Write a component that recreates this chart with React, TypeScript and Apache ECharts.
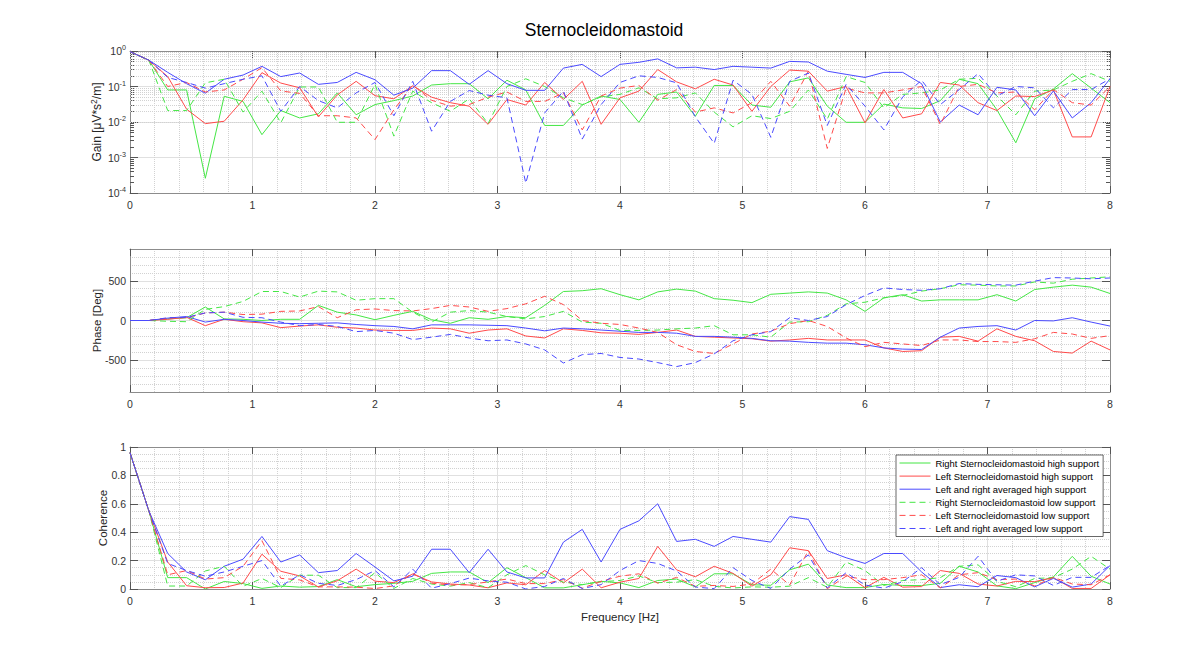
import React, { useEffect, useRef } from "react";
import * as echarts from "echarts";

// ---------------- data ----------------
const frequencyHz = [
  0, 0.154, 0.308, 0.462, 0.615, 0.769, 0.923, 1.077, 1.231, 1.385,
  1.538, 1.692, 1.846, 2.0, 2.154, 2.308, 2.462, 2.615, 2.769, 2.923,
  3.077, 3.231, 3.385, 3.538, 3.692, 3.846, 4.0, 4.154, 4.308, 4.462,
  4.615, 4.769, 4.923, 5.077, 5.231, 5.385, 5.538, 5.692, 5.846, 6.0,
  6.154, 6.308, 6.462, 6.615, 6.769, 6.923, 7.077, 7.231, 7.385, 7.538,
  7.692, 7.846, 8.0,
];

const seriesNames = [
  "Right Sternocleidomastoid high support",
  "Left Sternocleidomastoid high support",
  "Left and right averaged high support",
  "Right Sternocleidomastoid low support",
  "Left Sternocleidomastoid low support",
  "Left and right averaged low support",
];

// Gain (log axis); the coherence panel shows the same curves on a linear axis
const gainRightHigh = [
  0.96, 0.55, 0.08, 0.08, 0.00026, 0.053, 0.038, 0.0044, 0.021, 0.013,
  0.017, 0.066, 0.016, 0.031, 0.04, 0.054, 0.11, 0.12, 0.12, 0.045,
  0.15, 0.08, 0.008, 0.008, 0.03, 0.054, 0.043, 0.0098, 0.06, 0.07,
  0.0145, 0.107, 0.107, 0.03, 0.026, 0.135, 0.175, 0.028, 0.0098, 0.0098,
  0.032, 0.025, 0.024, 0.04, 0.16, 0.12, 0.022, 0.0026, 0.045, 0.085,
  0.23, 0.09, 0.035,
];
const gainLeftHigh = [
  0.96, 0.55, 0.19, 0.023, 0.009, 0.0105, 0.042, 0.245, 0.125, 0.092,
  0.014, 0.058, 0.14, 0.055, 0.045, 0.105, 0.05, 0.035, 0.028, 0.0086,
  0.043, 0.03, 0.13, 0.043, 0.14, 0.0086, 0.048, 0.074, 0.3, 0.135,
  0.086, 0.16, 0.11, 0.02, 0.1, 0.29, 0.27, 0.074, 0.1, 0.0095,
  0.082, 0.013, 0.017, 0.13, 0.11, 0.035, 0.021, 0.054, 0.052, 0.08,
  0.0038, 0.0038, 0.1,
];
const gainAvgHigh = [
  0.96, 0.55, 0.25, 0.12, 0.065, 0.16, 0.21, 0.37, 0.19, 0.24,
  0.115, 0.13, 0.25, 0.155, 0.057, 0.09, 0.28, 0.28, 0.115, 0.28,
  0.12, 0.078, 0.078, 0.33, 0.42, 0.19, 0.42, 0.48, 0.6, 0.335,
  0.35, 0.3, 0.37, 0.35, 0.33, 0.51, 0.49, 0.27, 0.22, 0.18,
  0.25, 0.25, 0.12, 0.01, 0.03, 0.016, 0.095, 0.08, 0.015, 0.075,
  0.013, 0.035, 0.165,
];
const gainRightLow = [
  0.96, 0.55, 0.021, 0.021, 0.127, 0.16, 0.019, 0.074, 0.0095, 0.097,
  0.097, 0.0098, 0.0098, 0.115, 0.004, 0.074, 0.035, 0.02, 0.045, 0.009,
  0.1, 0.165, 0.1, 0.048, 0.031, 0.051, 0.06, 0.092, 0.045, 0.048,
  0.066, 0.019, 0.0073, 0.015, 0.0125, 0.02, 0.08, 0.012, 0.19, 0.13,
  0.025, 0.06, 0.066, 0.08, 0.16, 0.17, 0.054, 0.016, 0.074, 0.08,
  0.14, 0.23, 0.14,
];
const gainLeftLow = [
  0.96, 0.55, 0.1, 0.13, 0.07, 0.08, 0.16, 0.34, 0.075, 0.064,
  0.015, 0.015, 0.013, 0.0032, 0.022, 0.11, 0.041, 0.028, 0.031, 0.05,
  0.07, 0.038, 0.038, 0.066, 0.006, 0.054, 0.09, 0.107, 0.041, 0.082,
  0.019, 0.025, 0.018, 0.035, 0.14, 0.028, 0.27, 0.0018, 0.09, 0.066,
  0.066, 0.08, 0.1, 0.0085, 0.1, 0.115, 0.066, 0.07, 0.022, 0.082,
  0.035, 0.03, 0.1,
];
const gainAvgLow = [
  0.96, 0.55, 0.18, 0.13, 0.09, 0.12, 0.16, 0.2, 0.02, 0.1,
  0.04, 0.025, 0.066, 0.13, 0.015, 0.14, 0.0055, 0.038, 0.077, 0.057,
  0.048, 0.00019, 0.018, 0.074, 0.0033, 0.031, 0.13, 0.2, 0.18, 0.127,
  0.014, 0.0025, 0.15, 0.06, 0.0037, 0.14, 0.24, 0.008, 0.115, 0.028,
  0.006, 0.051, 0.15, 0.031, 0.082, 0.23, 0.054, 0.1, 0.092, 0.025,
  0.082, 0.082, 0.165,
];

// Phase [Deg]
const phaseRightHigh = [
  0, 0, 20, 35, 170, 20, 15, 0, 15, 15,
  190, 105, 70, 10, 65, 115, 10, -35, 35, 15,
  50, 35, 190, 365, 375, 400, 325, 260, 360, 395,
  370, 275, 255, 225, 330, 345, 360, 345, 260, 115,
  285, 325, 245, 260, 260, 260, 325, 245, 390, 420,
  445, 420, 340,
];
const phaseLeftHigh = [
  0, 0, 15, 40, -65, 15, -15, -30, -90, -70,
  -55, -85, -95, -120, -125, -125, -95, -105, -160, -120,
  -105, -195, -220, -105, -125, -155, -160, -175, -150, -120,
  -200, -210, -220, -230, -260, -245, -225, -245, -245, -245,
  -345, -390, -380, -210, -200, -260, -105, -200, -255, -390,
  -410, -260, -370,
];
const phaseAvgHigh = [
  0, 0, 30, 50, -20, 15, 0, -20, -35, -40,
  -35, -30, -50, -65, -75, -105, -55, -55, -55, -60,
  -65, -95, -130, -95, -105, -120, -135, -150, -150, -160,
  -200, -200, -210, -225, -255, -260, -275, -285, -285, -305,
  -345, -360, -365, -210, -95, -75, -65, -120, 0, -5,
  35, -20, -70,
];
const phaseRightLow = [
  0, 0, -10, -15, 140, 175, 240, 365, 365, 295,
  370, 360, 255, 275, 275, 105, -20, 105, 125, 105,
  50, 20, 50, 115, -20, -35, -125, -125, -120, -105,
  -95, -65, -180, -180, -210, -20, -15, 65, 210, 230,
  285, 315, 370, 400, 450, 445, 435, 435, 485, 470,
  520, 535, 550,
];
const phaseLeftLow = [
  0, 0, 30, 35, 95, 105, 75, 80, 115, 120,
  175, 35, 135, 145, 125, 120, 150, 190, 170, 115,
  150, 210, 305, 200, 0, -35, -50, -95, -150, -305,
  -390, -415, -295, -170, -135, -40, 0, -75, -220, -330,
  -275, -295, -315, -245, -245, -265, -265, -275, -230, -150,
  -170, -225, -190,
];
const phaseAvgLow = [
  0, 0, 35, 40, 95, 105, 40, 35, -20, -65,
  -50, -75, -140, -125, -160, -240, -210, -175, -220, -255,
  -245, -295, -370, -535, -430, -415, -465, -485, -530, -580,
  -530, -420, -255, -180, -140, 35, 0, 50, 200, 315,
  410, 390, 380, 400, 465, 455, 450, 445, 495, 540,
  535, 525, 535,
];

// Coherence: same curves as the gain panel, drawn on a linear 0..1 axis
const coherenceRightHigh = gainRightHigh;
const coherenceLeftHigh = gainLeftHigh;
const coherenceAvgHigh = gainAvgHigh;
const coherenceRightLow = gainRightLow;
const coherenceLeftLow = gainLeftLow;
const coherenceAvgLow = gainAvgLow;

const phaseTicks = [-500, 0, 500];
const logMinorTicks: number[] = [];
for (let e = -4; e < 0; e++) {
  for (let m = 2; m <= 9; m++) logMinorTicks.push(m * Math.pow(10, e));
}

// ---------------- styling ----------------
const FONT = "'Liberation Sans', Arial, Helvetica, sans-serif";
const GREEN = "#45e645";
const RED = "#ff4a4a";
const BLUE = "#4a4aff";
const AXIS = "#8c8c8c";
const TICK = "#555555";
const LABEL = "#333333";
const MAJOR = "#e0e0e0";
const MINOR = "#d2d2d2";
const TICK_FS = 10.5;
const NAME_FS = 11.5;

const styles = [
  { color: GREEN, dashed: false },
  { color: RED, dashed: false },
  { color: BLUE, dashed: false },
  { color: GREEN, dashed: true },
  { color: RED, dashed: true },
  { color: BLUE, dashed: true },
];
const gainSets = [gainRightHigh, gainLeftHigh, gainAvgHigh, gainRightLow, gainLeftLow, gainAvgLow];
const phaseSets = [phaseRightHigh, phaseLeftHigh, phaseAvgHigh, phaseRightLow, phaseLeftLow, phaseAvgLow];
const cohSets = [coherenceRightHigh, coherenceLeftHigh, coherenceAvgHigh, coherenceRightLow, coherenceLeftLow, coherenceAvgLow];

const pairs = (vals: number[]) => frequencyHz.map((f, i) => [f, vals[i]]);
const nameStyle = { color: "#262626", fontSize: NAME_FS, fontFamily: FONT };

function xBottom(gridIndex: number, name: string) {
  return {
    type: "value",
    gridIndex,
    min: 0,
    max: 8,
    interval: 1,
    position: "bottom",
    axisLine: { onZero: false, lineStyle: { color: AXIS, width: 1 } },
    axisTick: { inside: true, length: 7, lineStyle: { color: TICK } },
    axisLabel: { color: LABEL, fontSize: TICK_FS, fontFamily: FONT, margin: 6 },
    splitLine: { show: true, lineStyle: { color: MAJOR, width: 1 } },
    minorTick: { show: false, splitNumber: 5 },
    minorSplitLine: { show: true, lineStyle: { color: MINOR, type: "dotted", width: 1 } },
    name,
    nameLocation: "middle",
    nameGap: 22,
    nameMoveOverlap: false,
    nameTextStyle: nameStyle,
  };
}
function xTop(gridIndex: number) {
  return {
    type: "value",
    gridIndex,
    min: 0,
    max: 8,
    interval: 1,
    position: "top",
    axisLine: { onZero: false, lineStyle: { color: AXIS, width: 1 } },
    axisTick: { inside: true, length: 7, lineStyle: { color: TICK } },
    axisLabel: { show: false },
    splitLine: { show: false },
  };
}
function logMinorAxis(position: string) {
  return {
    type: "log",
    logBase: 10,
    gridIndex: 0,
    min: 0.0001,
    max: 1,
    position,
    axisLine: { show: false, onZero: false },
    axisTick: { show: true, inside: true, length: 4, lineStyle: { color: TICK }, customValues: logMinorTicks },
    axisLabel: { show: false },
    splitLine: { show: false },
  };
}

function lineSeries(i: number, vals: number[], xAxisIndex: number, yAxisIndex: number) {
  return {
    type: "line",
    name: seriesNames[i],
    xAxisIndex,
    yAxisIndex,
    data: pairs(vals),
    showSymbol: false,
    symbol: "none",
    lineStyle: { color: styles[i].color, width: 1, type: styles[i].dashed ? [6, 4] : "solid" },
    itemStyle: { color: styles[i].color },
    z: 3,
  } as any;
}

function buildOption() {
  const series: any[] = [];
  gainSets.forEach((vals, i) => {
    const s = lineSeries(i, vals, 0, 0);
    if (i === 0) {
      s.markLine = {
        silent: true,
        symbol: ["none", "none"],
        label: { show: false },
        z: 1,
        lineStyle: { color: MINOR, type: "dotted", width: 1 },
        data: logMinorTicks.map((v) => ({ yAxis: v })),
      };
    }
    series.push(s);
  });
  phaseSets.forEach((vals, i) => series.push(lineSeries(i, vals, 2, 3)));
  cohSets.forEach((vals, i) => series.push(lineSeries(i, vals, 4, 5)));

  const logLabel = (v: number) => {
    const e = Math.round(Math.log10(v));
    return `{b|10}{s|${e}}`;
  };

  return {
    animation: false,
    backgroundColor: "#ffffff",
    title: {
      text: "Sternocleidomastoid",
      left: 599,
      textAlign: "center",
      top: 16,
      textStyle: { color: "#000", fontSize: 17.5, fontWeight: "normal", fontFamily: FONT },
    },
    legend: {
      data: seriesNames,
      orient: "vertical",
      left: 896,
      top: 455,
      itemWidth: 31,
      itemHeight: 10,
      itemGap: 3.1,
      padding: [3, 4, 3, 3],
      backgroundColor: "#ffffff",
      borderColor: "#262626",
      borderWidth: 0.7,
      borderRadius: 0,
      itemStyle: { opacity: 0 },
      lineStyle: { width: 1 },
      textStyle: { color: "#000", fontSize: 9.4, lineHeight: 10, fontFamily: FONT },
      selectedMode: false,
    },
    grid: [
      { left: 130, width: 980, top: 51, height: 142 },
      { left: 130, width: 980, top: 249, height: 143 },
      { left: 130, width: 980, top: 447, height: 142 },
    ],
    xAxis: [xBottom(0, ""), xTop(0), xBottom(1, ""), xTop(1), xBottom(2, "Frequency [Hz]"), xTop(2)],
    yAxis: [
      // 0: gain left (log)
      {
        type: "log",
        logBase: 10,
        gridIndex: 0,
        min: 0.0001,
        max: 1,
        position: "left",
        axisLine: { onZero: false, lineStyle: { color: AXIS, width: 1 } },
        axisTick: { inside: true, length: 8, lineStyle: { color: TICK } },
        axisLabel: {
          formatter: logLabel,
          margin: 4,
          rich: {
            b: { color: LABEL, fontSize: TICK_FS, fontFamily: FONT },
            s: { color: LABEL, fontSize: 7.2, fontFamily: FONT, padding: [0, 0, 7, 0] },
          },
        },
        splitLine: { show: true, lineStyle: { color: MAJOR, width: 1 } },
        name: "{n|Gain [μV*s}{p|2}{n|/m]}",
        nameLocation: "middle",
        nameGap: 26,
        nameMoveOverlap: false,
        nameTextStyle: {
          ...nameStyle,
          rich: {
            n: { color: "#262626", fontSize: 12, fontFamily: FONT },
            p: { color: "#262626", fontSize: 8.5, fontFamily: FONT, padding: [0, 0, 6, 0] },
          },
        },
      },
      // 1: gain right box
      {
        type: "log",
        logBase: 10,
        gridIndex: 0,
        min: 0.0001,
        max: 1,
        position: "right",
        axisLine: { onZero: false, lineStyle: { color: AXIS, width: 1 } },
        axisTick: { inside: true, length: 8, lineStyle: { color: TICK } },
        axisLabel: { show: false },
        splitLine: { show: false },
      },
      // 2: phase minor grid
      {
        type: "value",
        gridIndex: 1,
        min: -900,
        max: 900,
        interval: 100,
        axisLine: { show: false },
        axisTick: { show: false },
        axisLabel: { show: false },
        splitLine: { show: true, lineStyle: { color: MINOR, type: "dotted", width: 1 } },
      },
      // 3: phase left
      {
        type: "value",
        gridIndex: 1,
        min: -900,
        max: 900,
        interval: 100,
        position: "left",
        axisLine: { onZero: false, lineStyle: { color: AXIS, width: 1 } },
        axisTick: { inside: true, length: 8, lineStyle: { color: TICK }, customValues: phaseTicks },
        axisLabel: { color: LABEL, fontSize: TICK_FS, fontFamily: FONT, margin: 4, customValues: phaseTicks },
        splitLine: { show: true, lineStyle: { color: MAJOR, width: 1 } },
        name: "Phase [Deg]",
        nameLocation: "middle",
        nameGap: 27,
        nameMoveOverlap: false,
        nameTextStyle: nameStyle,
      },
      // 4: phase right box
      {
        type: "value",
        gridIndex: 1,
        min: -900,
        max: 900,
        interval: 100,
        position: "right",
        axisLine: { onZero: false, lineStyle: { color: AXIS, width: 1 } },
        axisTick: { inside: true, length: 8, lineStyle: { color: TICK }, customValues: phaseTicks },
        axisLabel: { show: false },
        splitLine: { show: false },
      },
      // 5: coherence left
      {
        type: "value",
        gridIndex: 2,
        min: 0,
        max: 1,
        interval: 0.2,
        position: "left",
        axisLine: { onZero: false, lineStyle: { color: AXIS, width: 1 } },
        axisTick: { inside: true, length: 8, lineStyle: { color: TICK } },
        axisLabel: { color: LABEL, fontSize: TICK_FS, fontFamily: FONT, margin: 4 },
        splitLine: { show: true, lineStyle: { color: MAJOR, width: 1 } },
        minorTick: { show: false, splitNumber: 4 },
        minorSplitLine: { show: true, lineStyle: { color: MINOR, type: "dotted", width: 1 } },
        name: "Coherence",
        nameLocation: "middle",
        nameGap: 21,
        nameMoveOverlap: false,
        nameTextStyle: nameStyle,
      },
      // 6: coherence right box
      {
        type: "value",
        gridIndex: 2,
        min: 0,
        max: 1,
        interval: 0.2,
        position: "right",
        axisLine: { onZero: false, lineStyle: { color: AXIS, width: 1 } },
        axisTick: { inside: true, length: 8, lineStyle: { color: TICK } },
        axisLabel: { show: false },
        splitLine: { show: false },
      },
      // 7, 8: log minor ticks
      logMinorAxis("left"),
      logMinorAxis("right"),
    ],
    series,
  };
}

export default function App() {
  const ref = useRef<HTMLDivElement>(null);
  useEffect(() => {
    if (!ref.current) return;
    const chart = echarts.init(ref.current, undefined, { renderer: "svg" });
    chart.setOption(buildOption() as any);
    return () => chart.dispose();
  }, []);
  return (
    <div
      ref={ref}
      style={{ position: "absolute", left: 0, top: 0, width: 1196, height: 652, background: "#fff" }}
    />
  );
}
